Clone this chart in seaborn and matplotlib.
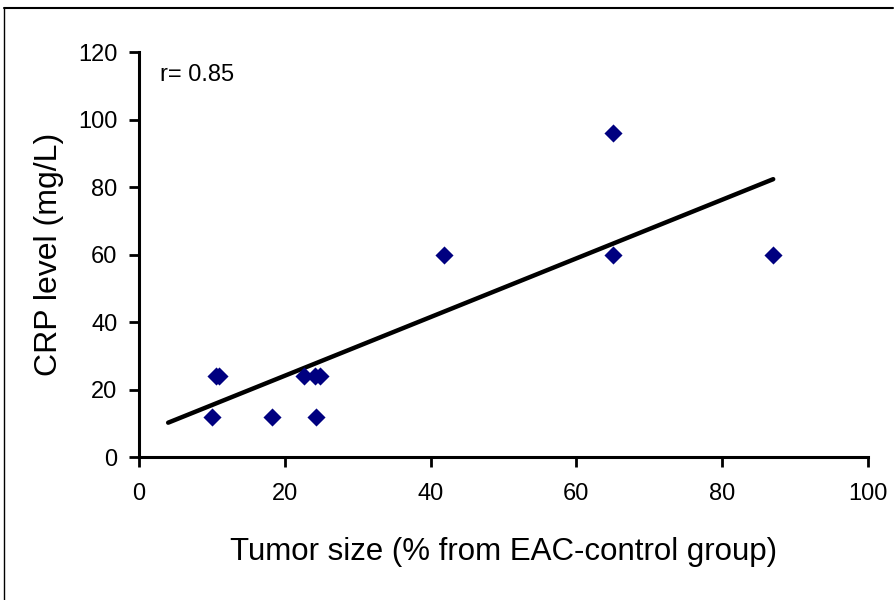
import numpy as np
import pandas as pd
import matplotlib
matplotlib.use("Agg")
import matplotlib.pyplot as plt
import seaborn as sns
from matplotlib.lines import Line2D

# values
tumor_size = [10, 10.5, 11, 18.3, 22.6, 24.2, 24.8, 24.3, 41.8, 65, 65, 87]
crp_level = [12, 24, 24, 12, 24, 24, 24, 12, 60, 96, 60, 60]
trend_range = [4, 87]
x_ticks = [0, 20, 40, 60, 80, 100]
y_ticks = [0, 20, 40, 60, 80, 100, 120]
r_text = "r= 0.85"

df = pd.DataFrame({"tumor": tumor_size, "crp": crp_level})

sns.set_theme(style="ticks")
plt.rcParams["font.family"] = ["Liberation Sans", "DejaVu Sans"]

fig = plt.figure(figsize=(8.95, 6), dpi=100)
ax = fig.add_axes([0.1553, 0.2383, 0.8145, 0.675])

# linear trendline (least squares)
slope, icpt = np.polyfit(df["tumor"], df["crp"], 1)
tx = np.array(trend_range, dtype=float)
trend = pd.DataFrame({"x": tx, "y": slope * tx + icpt})
sns.lineplot(data=trend, x="x", y="y", ax=ax, color="black", linewidth=3.2,
             solid_capstyle="round")

sns.scatterplot(data=df, x="tumor", y="crp", ax=ax, marker="D", s=85,
                color="#000080", edgecolor="#000080", linewidth=0, zorder=3)

ax.set_xlim(0, 100)
ax.set_ylim(0, 120)
ax.set_xticks(x_ticks)
ax.set_yticks(y_ticks)
ax.tick_params(axis="both", labelsize=17, width=2, length=7.5, color="black",
               labelcolor="black")
ax.tick_params(axis="x", pad=11)
ax.tick_params(axis="y", pad=8)
for side in ["top", "right"]:
    ax.spines[side].set_visible(False)
for side in ["left", "bottom"]:
    ax.spines[side].set_linewidth(2.2)
    ax.spines[side].set_color("black")

ax.set_xlabel("Tumor size (% from EAC-control group)", fontsize=22.5, labelpad=23,
              color="black")
ax.set_ylabel("CRP level (mg/L)", fontsize=23, labelpad=10, color="black")
ax.text(0.029, 0.943, r_text, transform=ax.transAxes, fontsize=17,
        va="center", ha="left", color="black")

# outer frame (top and left edges visible in the reference)
fig.add_artist(Line2D([0.005, 0.005], [0.0, 0.987], transform=fig.transFigure,
                      color="black", linewidth=1.0))
fig.add_artist(Line2D([0.005, 0.998], [0.987, 0.987], transform=fig.transFigure,
                      color="black", linewidth=1.5))

fig.savefig("out.png", dpi=100, facecolor="white")
